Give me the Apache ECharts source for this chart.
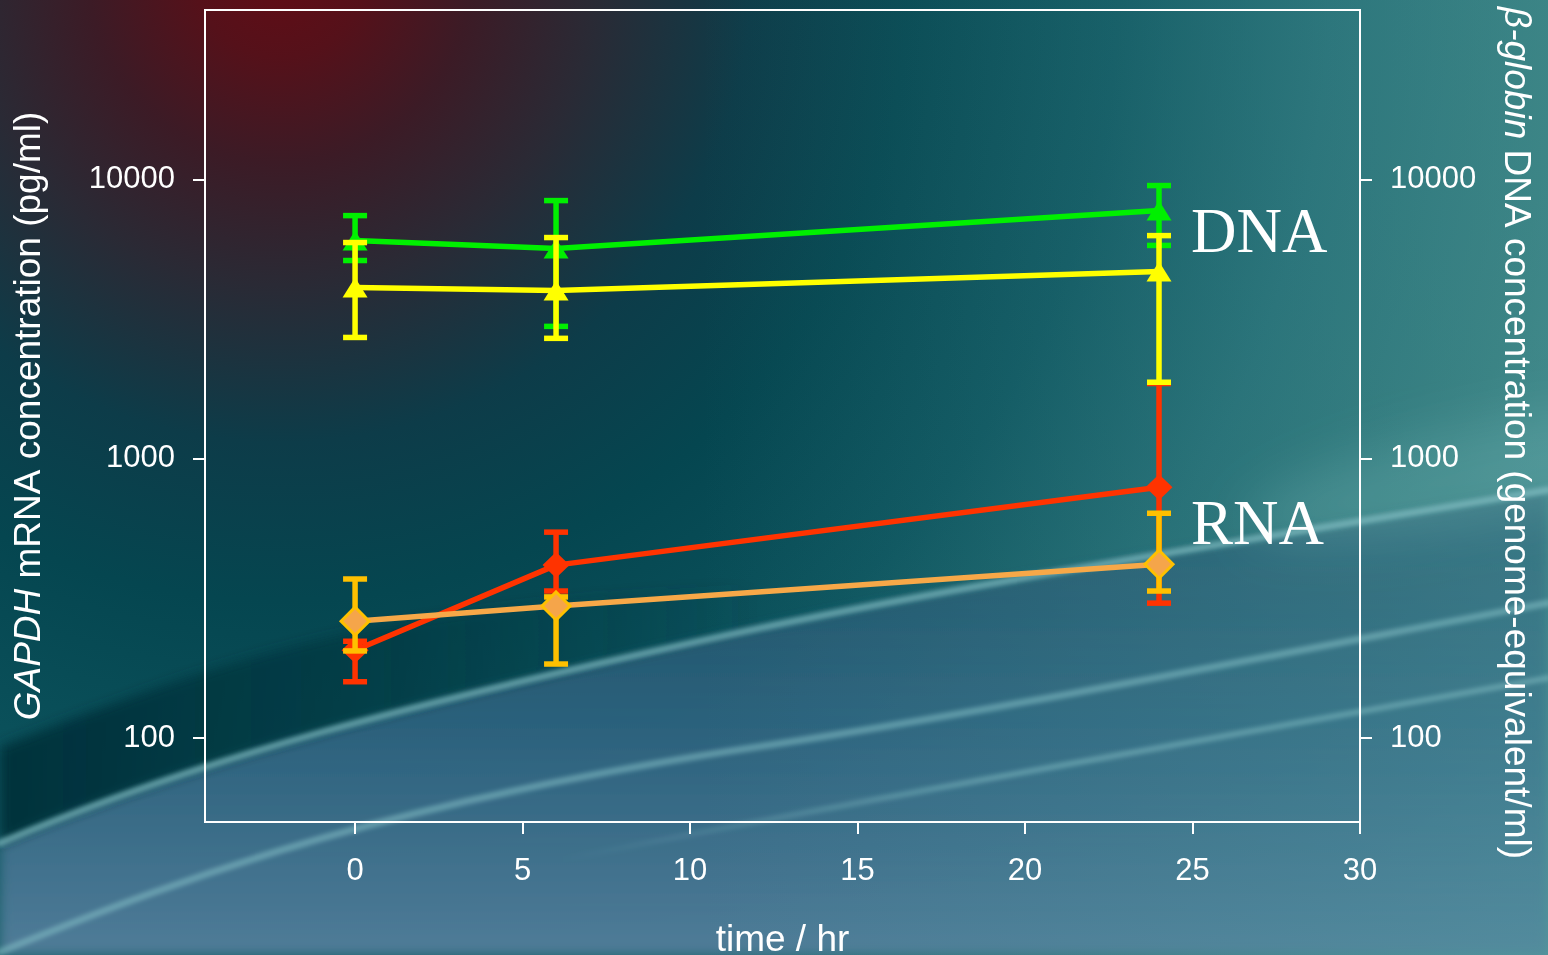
<!DOCTYPE html>
<html><head><meta charset="utf-8">
<script src="https://cdn.jsdelivr.net/npm/echarts@6/dist/echarts.min.js"></script>
<style>
html,body{margin:0;padding:0;width:1548px;height:955px;overflow:hidden;background:#0a4550}
#bg{position:absolute;left:0;top:0}
#chart{position:absolute;left:0;top:0;width:1548px;height:955px}
</style></head><body>
<svg id="bg" width="1548" height="955" viewBox="0 0 1548 955" xmlns="http://www.w3.org/2000/svg">
<defs>
<radialGradient id="g0" gradientUnits="userSpaceOnUse" cx="280" cy="-30" r="1750">
<stop offset="0" stop-color="#620c15"/>
<stop offset="0.05" stop-color="#55111a"/>
<stop offset="0.11" stop-color="#3c1b26"/>
<stop offset="0.18" stop-color="#2a2a35"/>
<stop offset="0.27" stop-color="#0d3c49"/>
<stop offset="0.36" stop-color="#054650"/>
<stop offset="0.48" stop-color="#0b525c"/>
<stop offset="0.6" stop-color="#1d656d"/>
<stop offset="0.73" stop-color="#2c7274"/>
<stop offset="0.88" stop-color="#478a8e"/>
<stop offset="1" stop-color="#5a9399"/>
</radialGradient>
<linearGradient id="g1" gradientUnits="userSpaceOnUse" x1="0" y1="500" x2="0" y2="955">
<stop offset="0" stop-color="#1f5068" stop-opacity="0.75"/>
<stop offset="0.5" stop-color="#2f6380" stop-opacity="0.9"/>
<stop offset="1" stop-color="#4f7c98" stop-opacity="1"/>
</linearGradient>
<linearGradient id="g2" gradientUnits="userSpaceOnUse" x1="0" y1="0" x2="760" y2="0">
<stop offset="0" stop-color="#02313b" stop-opacity="1"/>
<stop offset="0.5" stop-color="#03363f" stop-opacity="0.6"/>
<stop offset="1" stop-color="#053a45" stop-opacity="0"/>
</linearGradient>
<linearGradient id="g3" gradientUnits="userSpaceOnUse" x1="700" y1="0" x2="1548" y2="0">
<stop offset="0" stop-color="#5aa8a8" stop-opacity="0"/>
<stop offset="1" stop-color="#5aa8a8" stop-opacity="0.35"/>
</linearGradient>
<linearGradient id="g4" gradientUnits="userSpaceOnUse" x1="560" y1="0" x2="1000" y2="0">
<stop offset="0" stop-color="#8cc8cc" stop-opacity="0"/>
<stop offset="1" stop-color="#8cc8cc" stop-opacity="0.45"/>
</linearGradient>
<filter id="b2" x="-5%" y="-20%" width="110%" height="140%"><feGaussianBlur stdDeviation="2"/></filter>
<filter id="b6" x="-5%" y="-20%" width="110%" height="140%"><feGaussianBlur stdDeviation="6"/></filter>
<filter id="b20" x="-50%" y="-50%" width="200%" height="200%"><feGaussianBlur stdDeviation="25"/></filter>
</defs>
<rect width="1548" height="955" fill="url(#g0)"/>
<path d="M0 843 C 200 758, 400 705, 770 626 C 1000 578, 1300 532, 1548 490 L1548 955 L0 955 Z" fill="url(#g1)" filter="url(#b6)"/>
<path d="M0 747 C 120 700, 260 645, 420 620 C 550 600, 650 590, 770 582 L770 626 C 400 705, 200 758, 0 843 Z" fill="url(#g2)" filter="url(#b6)"/>
<rect width="1548" height="955" fill="url(#g3)"/>
<ellipse cx="1500" cy="470" rx="260" ry="50" transform="rotate(-12 1500 470)" fill="#7ac0c0" fill-opacity="0.25" filter="url(#b20)"/>
<g filter="url(#b2)" fill="none" stroke-linecap="round">
<path d="M0 843 C 200 758, 400 705, 770 626 C 1000 578, 1300 532, 1548 490" stroke="#8cc8cc" stroke-opacity="0.6" stroke-width="7"/>
<path d="M0 952 C 200 870, 400 800, 770 745 C 1000 710, 1300 650, 1548 603" stroke="#8cc8cc" stroke-opacity="0.5" stroke-width="7"/>
<path d="M560 860 C 800 812, 1100 758, 1548 678" stroke="url(#g4)" stroke-width="6"/>
</g>
</svg>
<div id="chart"></div>
<script>
// ---- data ----
const times = [0, 6, 24];
const xTickValues = [0, 5, 10, 15, 20, 25, 30];
const yTickValues = [100, 1000, 10000];

const dnaGreen = [6050, 5660, 7750];
const dnaGreenLow = [5130, 2980, 5810];
const dnaGreenHigh = [7430, 8410, 9520];

const dnaYellow = [4110, 4010, 4690];
const dnaYellowLow = [2720, 2700, 1880];
const dnaYellowHigh = [5950, 6200, 6300];

const rnaRed = [206, 416, 791];
const rnaRedLow = [159, 336, 304];
const rnaRedHigh = [222, 546, 1860];

const rnaOrange = [262, 297, 419];
const rnaOrangeLow = [205, 184, 336];
const rnaOrangeHigh = [371, 320, 638];

// ---- chart ----
const FONT = 'Liberation Sans, Arial, sans-serif';
const chart = echarts.init(document.getElementById('chart'), null, {renderer: 'canvas'});

function errorSeries(name, low, high, color, yAxisIndex, z) {
  return {
    type: 'custom', name: name, yAxisIndex: yAxisIndex, z: z,
    data: times.map((t, i) => [t, low[i], high[i]]),
    encode: {x: 0, y: [1, 2]},
    renderItem: function (params, api) {
      const lo = api.coord([api.value(0), api.value(1)]);
      const hi = api.coord([api.value(0), api.value(2)]);
      const hw = 12;
      const style = {stroke: color, lineWidth: 5.5};
      return {type: 'group', children: [
        {type: 'line', shape: {x1: lo[0], y1: lo[1], x2: hi[0], y2: hi[1]}, style: style},
        {type: 'line', shape: {x1: lo[0] - hw, y1: lo[1], x2: lo[0] + hw, y2: lo[1]}, style: style},
        {type: 'line', shape: {x1: hi[0] - hw, y1: hi[1], x2: hi[0] + hw, y2: hi[1]}, style: style}
      ]};
    }
  };
}

function lineSeries(name, vals, symbol, size, lineColor, itemStyle, yAxisIndex, z) {
  return {
    type: 'line', name: name, yAxisIndex: yAxisIndex, z: z,
    data: times.map((t, i) => [t, vals[i]]),
    symbol: symbol, symbolSize: size, showAllSymbol: true,
    lineStyle: {color: lineColor, width: 5.5},
    itemStyle: itemStyle
  };
}

const axisLine = {show: true, onZero: false, lineStyle: {color: '#ffffff', width: 2}};
const tickStyle = {color: '#ffffff', width: 2};
const plainNumber = v => String(Math.round(v));

function yAxisDef(position, name, rotate, gap, pad) {
  return {
    type: 'log', logBase: 10, position: position, min: 50, max: 40500,
    axisLine: axisLine,
    axisTick: {show: true, length: 12, lineStyle: tickStyle, customValues: yTickValues},
    axisLabel: {color: '#fff', fontSize: 31, fontFamily: FONT, margin: 30, customValues: yTickValues,
      formatter: plainNumber},
    splitLine: {show: false},
    name: name, nameLocation: 'middle', nameRotate: rotate, nameGap: gap,
    nameTextStyle: {color: '#fff', fontSize: 37, fontFamily: FONT, padding: pad,
      rich: {i: {color: '#fff', fontSize: 37, fontFamily: FONT, fontStyle: 'italic'}}}
  };
}

chart.setOption({
  animation: false,
  grid: {left: 205, right: 188, top: 10, bottom: 133, containLabel: false, outerBoundsMode: 'none',
    show: true, borderColor: '#ffffff', borderWidth: 2, backgroundColor: 'transparent'},
  xAxis: {
    type: 'value', min: -4.48, max: 30,
    axisLine: axisLine,
    axisTick: {show: true, length: 12, lineStyle: tickStyle, customValues: xTickValues},
    axisLabel: {color: '#fff', fontSize: 31, fontFamily: FONT, margin: 34, customValues: xTickValues,
      formatter: plainNumber},
    splitLine: {show: false},
    name: 'time / hr', nameLocation: 'middle', nameGap: 100,
    nameTextStyle: {color: '#fff', fontSize: 37, fontFamily: FONT}
  },
  yAxis: [
    yAxisDef('left', '{i|GAPDH} mRNA concentration (pg/ml)', 90, 157, [0, 0, 0, 0]),
    yAxisDef('right', '{i|β-globin} DNA concentration (genome-equivalent/ml)', -90, 137, [0, 0, 0, 34])
  ],
  graphic: [
    {type: 'text', z: 100, style: {text: 'DNA', x: 1191, y: 235, fill: '#fff', fontSize: 63,
      fontFamily: 'Liberation Serif, Times New Roman, serif', align: 'left', verticalAlign: 'middle'}},
    {type: 'text', z: 100, style: {text: 'RNA', x: 1191, y: 527, fill: '#fff', fontSize: 63,
      fontFamily: 'Liberation Serif, Times New Roman, serif', align: 'left', verticalAlign: 'middle'}}
  ],
  series: [
    errorSeries('RNA red error', rnaRedLow, rnaRedHigh, '#ff3300', 0, 2),
    lineSeries('RNA red', rnaRed, 'diamond', [27, 26], '#ff3300', {color: '#ff3300'}, 0, 3),
    errorSeries('RNA orange error', rnaOrangeLow, rnaOrangeHigh, '#ffc000', 0, 4),
    lineSeries('RNA orange', rnaOrange, 'diamond', [28, 28], '#f7a848',
      {color: '#f5a54a', borderColor: '#ffc000', borderWidth: 3}, 0, 5),
    errorSeries('DNA green error', dnaGreenLow, dnaGreenHigh, '#00f000', 1, 6),
    lineSeries('DNA green', dnaGreen, 'triangle', [25, 20], '#00f000', {color: '#00f000'}, 1, 7),
    errorSeries('DNA yellow error', dnaYellowLow, dnaYellowHigh, '#ffff00', 1, 8),
    lineSeries('DNA yellow', dnaYellow, 'triangle', [25, 20], '#ffff00', {color: '#ffff00'}, 1, 9)
  ]
});
</script>
</body></html>
